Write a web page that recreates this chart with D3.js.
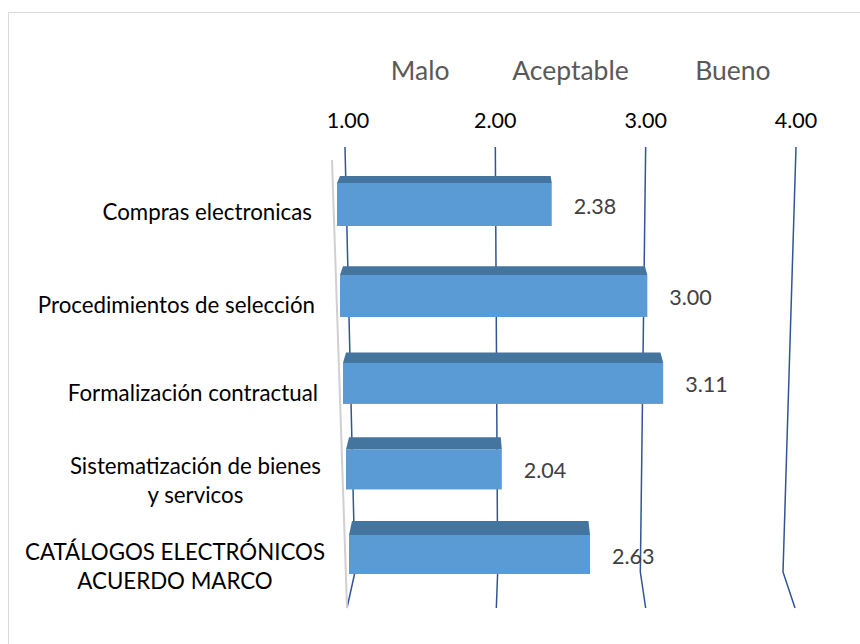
<!DOCTYPE html>
<html>
<head>
<meta charset="utf-8">
<script src="https://cdn.jsdelivr.net/npm/d3@7"></script>
<style>
  body { margin: 0; background: #fff; }
  svg { display: block; }
</style>
</head>
<body>
<div id="chart"></div>
<script>
// ── Data ───────────────────────────────────────────────────────────────────────
var categories = [
  'Compras electronicas',
  'Procedimientos de selección',
  'Formalización contractual',
  'Sistematización de bienes\ny servicos',
  'CATÁLOGOS ELECTRÓNICOS\nACUERDO MARCO'
];
var values = [2.38, 3.00, 3.11, 2.04, 2.63];
var tickValues = [1, 2, 3, 4];
var zoneLabels = ['Malo', 'Aceptable', 'Bueno'];
var zoneCenters = [1.5, 2.5, 3.58];

var width = 860, height = 644;
var FONT = 'Lato, "Open Sans", sans-serif';

var svg = d3.select('#chart').append('svg')
  .attr('width', width)
  .attr('height', height);

// Chart frame (runs off the bottom/right of the picture)
svg.append('rect')
  .attr('x', 8.5).attr('y', 12.5)
  .attr('width', 900).attr('height', 700)
  .attr('fill', '#fff')
  .attr('stroke', '#d9d9d9')
  .attr('stroke-width', 1);

// ── Perspective scales ─────────────────────────────────────────────────────────
// back wall top, wall/floor seam, front floor edge
var wallTop = 147, seamY = 572, floorY = 608;
var xTop  = d3.scaleLinear().domain([1, 4]).range([345, 796]);
var xSeam = d3.scaleLinear().domain([1, 4]).range([355, 783]);
var xBot  = d3.scaleLinear().domain([1, 4]).range([347, 795]);

// row index -> y of bar front face top (slight perspective)
var rowY = d3.scalePow().exponent(0.968).domain([0, 4]).range([183, 535]);
// row index -> front / back plane x scales
function frontX(i) {
  var left = 337 + 3 * i, unit = 155.6 - 1.93 * i;
  return d3.scaleLinear().domain([1, 4]).range([left, left + 3 * unit]);
}
function backX(i) {
  var left = 340 + 3 * i, unit = 153.4 - 1.93 * i;
  return d3.scaleLinear().domain([1, 4]).range([left, left + 3 * unit]);
}
function frontH(i) { return 43 - i; }
function topDepth(i) { return 7 + 1.75 * i; }

// ── Gridlines ──────────────────────────────────────────────────────────────────
var line = d3.line();
svg.append('g').attr('class', 'grid')
  .selectAll('path')
  .data(tickValues)
  .enter().append('path')
  .attr('d', function(t) {
    return line([[xTop(t), wallTop], [xSeam(t), seamY], [xBot(t), floorY]]);
  })
  .attr('fill', 'none')
  .attr('stroke', '#2f5597')
  .attr('stroke-width', 1.5);

// side wall edge
svg.append('line')
  .attr('x1', 332).attr('y1', 160)
  .attr('x2', 347).attr('y2', 608)
  .attr('stroke', '#d0d0d0')
  .attr('stroke-width', 2);

// ── Bars ───────────────────────────────────────────────────────────────────────
var bars = svg.append('g').attr('class', 'bars')
  .selectAll('g')
  .data(values)
  .enter().append('g');

bars.append('path')
  .attr('d', function(v, i) {
    var fx = frontX(i), bx = backX(i);
    var yf = rowY(i), yt = yf - topDepth(i);
    return line([[fx(1), yf], [bx(1), yt], [Math.min(bx(v), fx(v)) - 1, yt], [fx(v), yf]]) + 'Z';
  })
  .attr('fill', '#44759f');

bars.append('rect')
  .attr('x', function(v, i) { return frontX(i)(1); })
  .attr('y', function(v, i) { return rowY(i); })
  .attr('width', function(v, i) { return frontX(i)(v) - frontX(i)(1); })
  .attr('height', function(v, i) { return frontH(i); })
  .attr('fill', '#5b9bd5');

// value labels
bars.append('text')
  .attr('x', function(v, i) { return frontX(i)(v) + 22; })
  .attr('y', function(v, i) { return rowY(i) + frontH(i) / 2 + 1.5; })
  .attr('dy', '0.35em')
  .attr('font-family', FONT)
  .attr('font-size', 21.5)
  .attr('fill', '#404040')
  .text(function(v) { return v.toFixed(2); });

// ── Category labels ────────────────────────────────────────────────────────────
var lineH = 29;
var catG = svg.append('g').attr('class', 'categories');
categories.forEach(function(c, i) {
  var lines = c.split('\n');
  var right = 312 + 3 * i + (i === 4 ? 1 : 0);
  var cy = rowY(i) + frontH(i) / 2 + 8 + i;
  var t = catG.append('text')
    .attr('font-family', FONT)
    .attr('font-size', 22.3)
    .attr('fill', '#000');
  lines.forEach(function(l, k) {
    t.append('tspan')
      .attr('y', cy + (k - (lines.length - 1) / 2) * lineH)
      .attr('dy', '0.35em')
      .text(l);
  });
  // lines centred on the widest line, which ends at the axis side
  var maxW = 0;
  t.selectAll('tspan').each(function() { maxW = Math.max(maxW, this.getComputedTextLength()); });
  t.attr('text-anchor', 'middle');
  t.selectAll('tspan').attr('x', right - maxW / 2);
});

// ── Axis tick labels (top) ─────────────────────────────────────────────────────
svg.append('g').selectAll('text')
  .data(tickValues)
  .enter().append('text')
  .attr('x', function(t) { return xTop(t) + (t === 1 ? 3 : 0); })
  .attr('y', 128)
  .attr('text-anchor', 'middle')
  .attr('font-family', FONT)
  .attr('font-size', 21.5)
  .attr('fill', '#000')
  .text(function(t) { return t.toFixed(2); });

// ── Zone labels ────────────────────────────────────────────────────────────────
svg.append('g').selectAll('text')
  .data(zoneLabels)
  .enter().append('text')
  .attr('x', function(d, i) { return xTop(zoneCenters[i]); })
  .attr('y', 80)
  .attr('text-anchor', 'middle')
  .attr('font-family', FONT)
  .attr('font-size', 26.5)
  .attr('fill', '#595959')
  .text(function(d) { return d; });
</script>
</body>
</html>
